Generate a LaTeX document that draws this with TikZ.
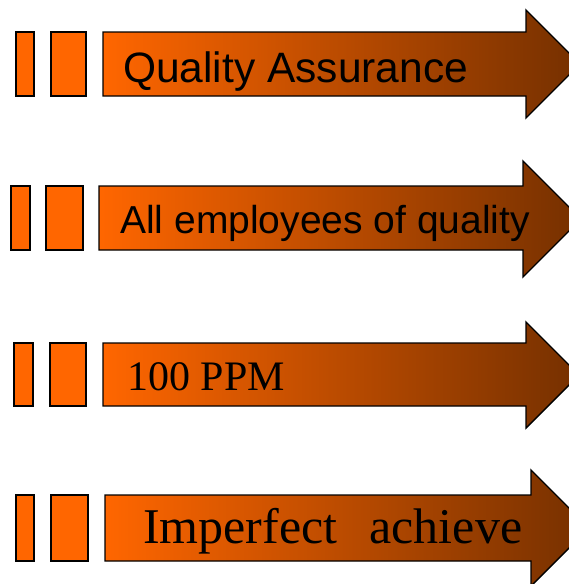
\documentclass[tikz,border=0pt]{standalone}
\usepackage{fontspec}
\newfontfamily\arialfont{Liberation Sans}
\newfontfamily\timesfont{Liberation Serif}
\definecolor{qorange}{RGB}{255,102,0}
\definecolor{qbrown}{RGB}{117,48,0}

\begin{document}
\begin{tikzpicture}[x=1pt,y=-1pt,line join=miter,
  bar/.style={draw=black,line width=1.4pt,fill=qorange},
  banner/.style={draw=black,line width=1.4pt,left color=qorange,right color=qbrown},
  sans label/.style={anchor=base west,inner sep=0pt,font=\arialfont\fontsize{#1}{#1}\selectfont},
  serif label/.style={anchor=base west,inner sep=0pt,font=\timesfont\fontsize{#1}{#1}\selectfont}]
  \useasboundingbox (0,0) rectangle (569,584);
  \clip (0,0) rectangle (569,584);

  \draw[bar] (16,32) rectangle (34,96);
  \draw[bar] (51,32) rectangle (86,96);
  \draw[banner] (103,32) -- (526,32) -- (526,10) -- (580,64) -- (526,118) -- (526,96) -- (103,96) -- cycle;
  \node[sans label=42.5] (qa) at (123,82) {Quality Assurance};

  \draw[bar] (11,186) rectangle (30,250);
  \draw[bar] (46,186) rectangle (83,250);
  \draw[banner] (99,186) -- (523,186) -- (523,161) -- (581,219) -- (523,277) -- (523,250) -- (99,250) -- cycle;
  \node[sans label=39] (staff) at (120,233) {All employees of quality};

  \draw[bar] (14,343) rectangle (33,406);
  \draw[bar] (50,343) rectangle (86,406);
  \draw[banner] (103,343) -- (526,343) -- (526,322) -- (579,375) -- (526,428) -- (526,406) -- (103,406) -- cycle;
  \node[serif label=42] (ppm) at (127,390) {100 PPM};

  \draw[bar] (16,495) rectangle (34,561);
  \draw[bar] (51,495) rectangle (88,561);
  \draw[banner] (105,495) -- (531,495) -- (531,470) -- (589,528) -- (531,586) -- (531,561) -- (105,561) -- cycle;
  \node[serif label=50] (flaw) at (143,543) {Imperfect\hspace{32pt}achieve};
\end{tikzpicture}
\end{document}
